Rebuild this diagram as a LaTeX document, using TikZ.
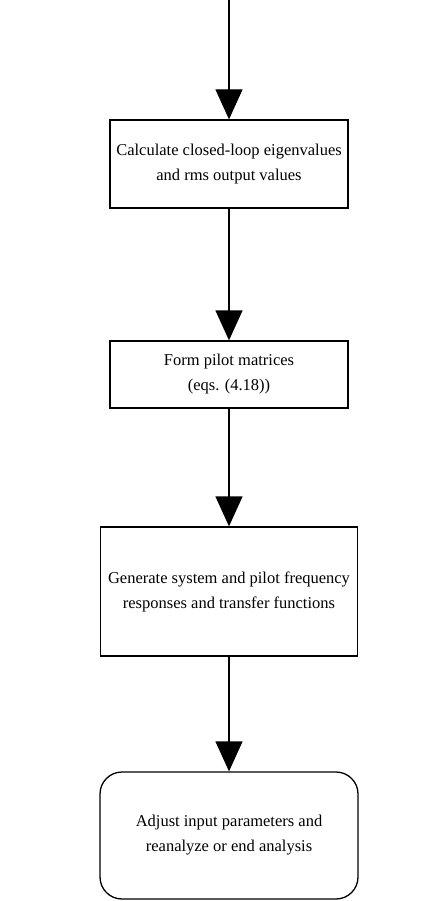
\documentclass[tikz,border=0pt]{standalone}
\usepackage{fontspec}
\setmainfont{Liberation Serif}
\usetikzlibrary{arrows.meta}
\begin{document}
\begin{tikzpicture}[x=1pt, y=-1pt,
  stepbox/.style={draw, line width=1.3pt, align=center, inner sep=0pt,
    font=\fontsize{16.5}{25}\selectfont},
  flow/.style={line width=1.3pt, -{Triangle[length=30pt, width=27pt]}}]
% Fix the page size
\useasboundingbox (0,0) rectangle (444,901);

% Draw the boxes
\coordinate (start) at (229,0);
\node[stepbox, minimum width=238pt, minimum height=88pt] (calc) at (229,164)
  {Calculate closed-loop eigenvalues\\and rms output values};
\node[stepbox, minimum width=238pt, minimum height=67pt] (pilot) at (229,374.5)
  {Form pilot matrices\\(eqs. (4.18))};
\node[stepbox, minimum width=257pt, minimum height=129pt] (gen) at (229,591.5)
  {Generate system and pilot frequency\\responses and transfer functions};
\node[stepbox, rounded corners=22pt, minimum width=258pt, minimum height=127pt] (adjust) at (229,835.5)
  {Adjust input parameters and\\reanalyze or end analysis};

% Draw the arrows
\draw[flow] (start) -- (calc.north);
\draw[flow] (calc) -- (pilot);
\draw[flow] (pilot) -- (gen);
\draw[flow] (gen) -- (adjust);
\end{tikzpicture}
\end{document}
